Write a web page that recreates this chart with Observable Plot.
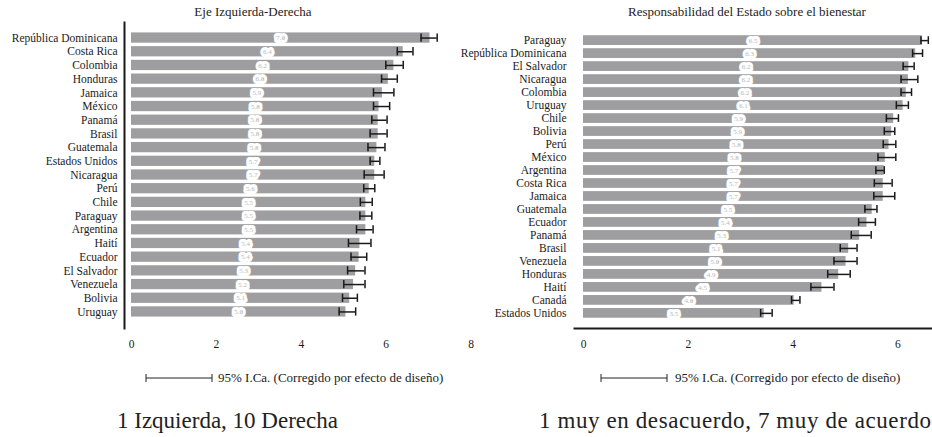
<!DOCTYPE html>
<html>
<head>
<meta charset="utf-8">
<script src="https://cdn.jsdelivr.net/npm/d3@7"></script>
<script src="https://cdn.jsdelivr.net/npm/@observablehq/plot@0.6"></script>
<style>
  html, body { margin: 0; padding: 0; background: #fff; }
  #wrap { position: relative; width: 932px; height: 437px; overflow: hidden; font-family: "Liberation Serif", serif; color: #222; }
  .abs { position: absolute; }
  .title { font-size: 13px; white-space: nowrap; transform: translateX(-50%); }
  .legend { font-size: 13px; white-space: nowrap; display: flex; align-items: center; }
  .big { font-size: 23px; white-space: nowrap; }
  svg.plot { background: transparent !important; overflow: visible; }
</style>
</head>
<body>
<div id="wrap">
  <div class="abs title" style="left:253px; top:4px;">Eje Izquierda-Derecha</div>
  <div class="abs title" style="left:747px; top:4px;">Responsabilidad del Estado sobre el bienestar</div>
  <div id="left" class="abs" style="left:0; top:0; width:480px;"></div>
  <div id="right" class="abs" style="left:460px; top:0; width:472px;"></div>
  <div class="abs legend" style="left:145px; top:370px;">
    <svg width="68" height="10"><line x1="1" y1="5" x2="67" y2="5" stroke="#222" stroke-width="1"/><line x1="1" y1="1" x2="1" y2="9" stroke="#222"/><line x1="67" y1="1" x2="67" y2="9" stroke="#222"/></svg>
    <span style="margin-left:5px;">95% I.Ca. (Corregido por efecto de diseño)</span>
  </div>
  <div class="abs legend" style="left:600px; top:370px;">
    <svg width="68" height="10"><line x1="1" y1="5" x2="67" y2="5" stroke="#222" stroke-width="1"/><line x1="1" y1="1" x2="1" y2="9" stroke="#222"/><line x1="67" y1="1" x2="67" y2="9" stroke="#222"/></svg>
    <span style="margin-left:7px;">95% I.Ca. (Corregido por efecto de diseño)</span>
  </div>
  <div class="abs big" style="left:117px; top:408px;">1 Izquierda, 10 Derecha</div>
  <div class="abs big" style="left:539px; top:408px; letter-spacing:0.6px;">1 muy en desacuerdo, 7 muy de acuerdo</div>
</div>
<script>
// Panel 1: Eje Izquierda-Derecha (1 Izquierda, 10 Derecha)
const leftCountries = ["República Dominicana","Costa Rica","Colombia","Honduras","Jamaica","México","Panamá","Brasil","Guatemala","Estados Unidos","Nicaragua","Perú","Chile","Paraguay","Argentina","Haití","Ecuador","El Salvador","Venezuela","Bolivia","Uruguay"];
const leftMean = [7.03,6.40,6.18,6.05,5.91,5.83,5.81,5.81,5.78,5.73,5.73,5.60,5.52,5.52,5.52,5.38,5.36,5.28,5.23,5.14,5.05];
const leftLo   = [6.82,6.26,5.99,5.89,5.70,5.70,5.66,5.62,5.57,5.62,5.48,5.47,5.39,5.38,5.30,5.11,5.17,5.09,5.00,4.97,4.89];
const leftHi   = [7.20,6.63,6.40,6.26,6.18,6.08,6.02,6.02,5.97,5.85,5.95,5.73,5.67,5.66,5.69,5.64,5.54,5.50,5.50,5.32,5.28];
const leftTicks = [0,2,4,6,8];

// Panel 2: Responsabilidad del Estado sobre el bienestar (1 muy en desacuerdo, 7 muy de acuerdo)
const rightCountries = ["Paraguay","República Dominicana","El Salvador","Nicaragua","Colombia","Uruguay","Chile","Bolivia","Perú","México","Argentina","Costa Rica","Jamaica","Guatemala","Ecuador","Panamá","Brasil","Venezuela","Honduras","Haití","Canadá","Estados Unidos"];
const rightMean = [6.47,6.34,6.21,6.20,6.16,6.10,5.92,5.88,5.83,5.76,5.74,5.72,5.72,5.51,5.41,5.27,5.06,5.01,4.87,4.55,4.02,3.45];
const rightLo   = [6.44,6.28,6.10,6.06,6.06,5.97,5.78,5.74,5.72,5.62,5.58,5.55,5.54,5.37,5.25,5.11,4.90,4.78,4.66,4.34,3.97,3.38];
const rightHi   = [6.58,6.47,6.31,6.38,6.26,6.20,6.01,5.94,5.96,5.96,5.74,5.89,5.94,5.60,5.57,5.49,5.22,5.22,5.09,4.78,4.13,3.60];
const rightTicks = [0,2,4,6];

const barColor = "#9e9ea0";
const ink = "#1a1a1a";

function rows(countries, mean, lo, hi) {
  return countries.map((c, i) => ({country: c, mean: mean[i], lo: lo[i], hi: hi[i]}));
}

function panel({data, width, marginLeft, xDomain, ticks, yRange, frameAnchor, frameWidth, labelPad}) {
  return Plot.plot({
    width, height: 360,
    marginLeft, marginRight: 0, marginTop: 22, marginBottom: 32,
    style: {fontFamily: "'Liberation Serif', serif", fontSize: "11.5px", color: ink, background: "transparent"},
    x: {domain: xDomain},
    y: {domain: data.map(d => d.country), range: yRange, padding: 0.25, round: false},
    marks: [
      Plot.barX(data, {y: "country", x1: 0, x2: "mean", fill: barColor}),
      Plot.text(data, {y: "country", x: d => d.mean / 2, text: d => d.mean.toFixed(1), fontSize: 7, fill: "#b8b8b8", stroke: "white", strokeWidth: 6}),
      Plot.ruleY(data, {y: "country", x1: "lo", x2: "hi", stroke: ink, strokeWidth: 1.5}),
      Plot.tickX(data, {y: "country", x: "lo", stroke: ink, strokeWidth: 1.5, insetTop: 1, insetBottom: 1}),
      Plot.tickX(data, {y: "country", x: "hi", stroke: ink, strokeWidth: 1.5, insetTop: 1, insetBottom: 1}),
      Plot.frame({anchor: frameAnchor, stroke: ink, strokeWidth: frameWidth}),
      Plot.axisX({ticks, tickFormat: d3.format("d"), tickSize: 0, tickPadding: 11, label: null, fontSize: 11.5}),
      Plot.axisY({tickSize: 0, tickPadding: labelPad, label: null})
    ]
  });
}

const leftData = rows(leftCountries, leftMean, leftLo, leftHi);
const rightData = rows(rightCountries, rightMean, rightLo, rightHi);

document.getElementById("left").append(panel({
  data: leftData, width: 480, marginLeft: 124,
  xDomain: [-0.165, 8.22], ticks: leftTicks,
  yRange: [29, 320], frameAnchor: "left", frameWidth: 2, labelPad: 7
}));
document.getElementById("right").append(panel({
  data: rightData, width: 472, marginLeft: 114,
  xDomain: [-0.172, 6.66], ticks: rightTicks,
  yRange: [32, 321], frameAnchor: "bottom", frameWidth: 2, labelPad: 8
}));
</script>
</body>
</html>
